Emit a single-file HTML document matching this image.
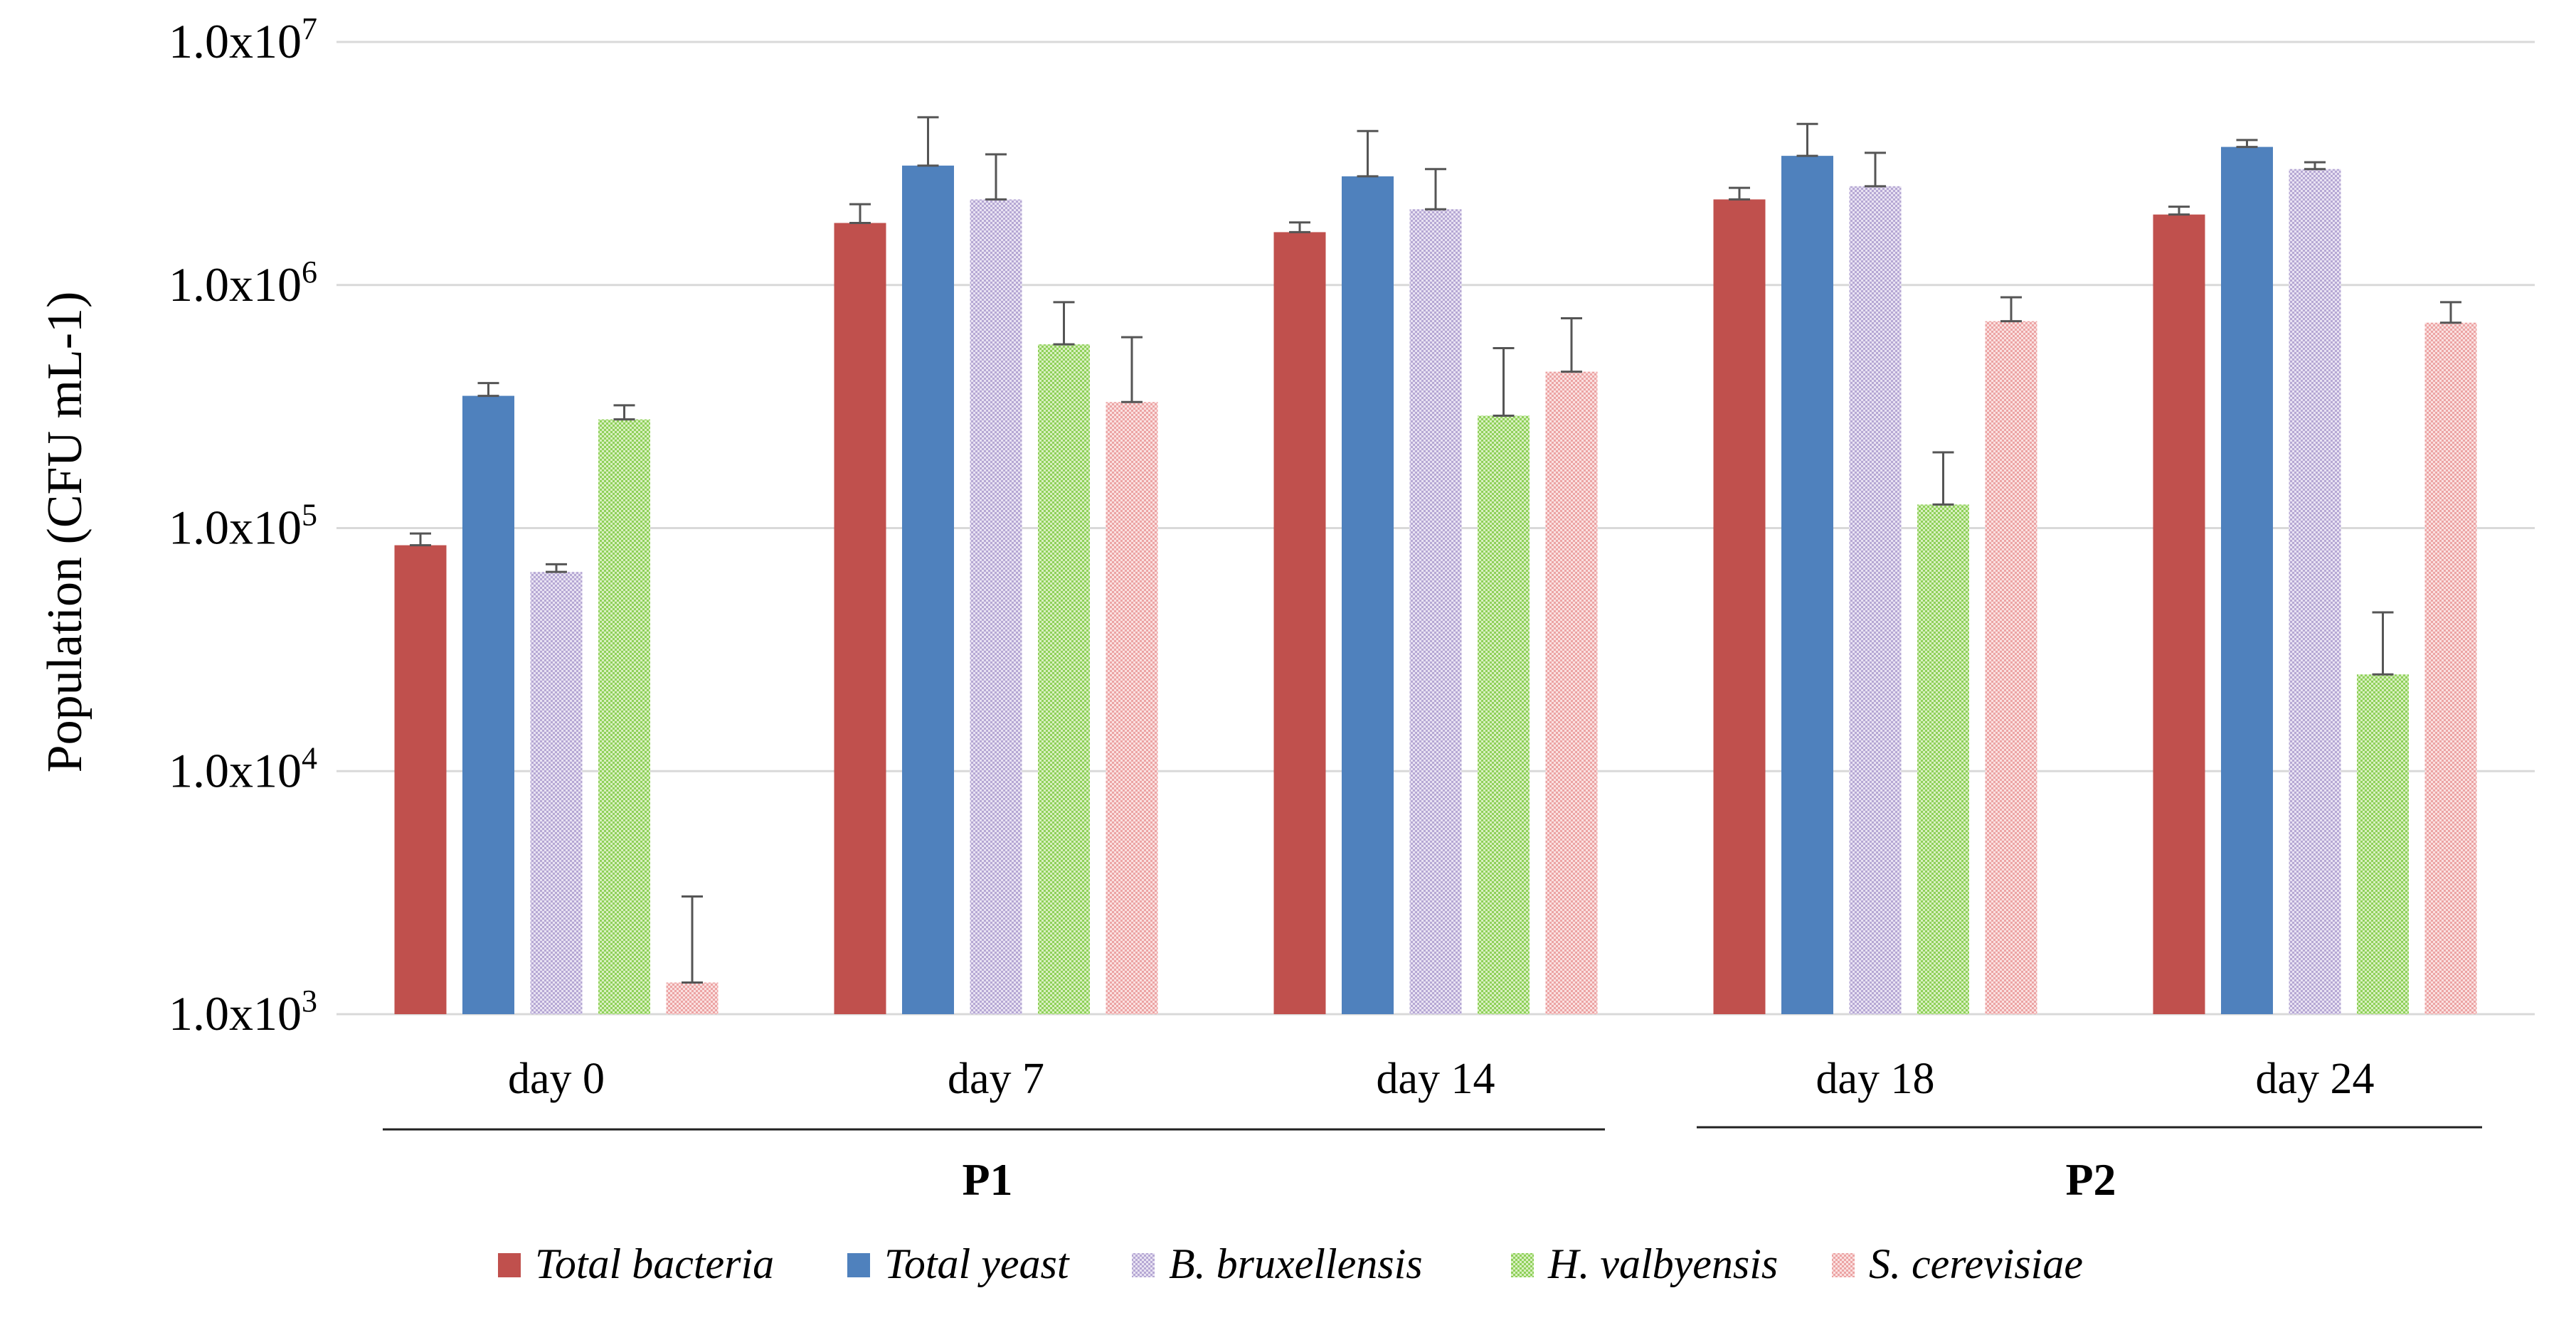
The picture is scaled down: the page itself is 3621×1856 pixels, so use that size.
<!DOCTYPE html>
<html><head><meta charset="utf-8"><style>
html,body{margin:0;padding:0;background:#fff}
svg{display:block;font-family:"Liberation Serif",serif}
</style></head><body>
<svg id="chart" width="3621" height="1856" viewBox="0 0 3621 1856" xmlns="http://www.w3.org/2000/svg">
<defs>
<pattern id="pPurple" width="6" height="6" patternUnits="userSpaceOnUse"><rect width="6" height="6" fill="#e8e2f2"/><rect width="3" height="3" fill="#b6a8d4"/><rect x="3" y="3" width="3" height="3" fill="#b6a8d4"/></pattern>
<pattern id="pGreen" width="6" height="6" patternUnits="userSpaceOnUse"><rect width="6" height="6" fill="#d8f0c0"/><rect width="3" height="3" fill="#8fd05a"/><rect x="3" y="3" width="3" height="3" fill="#8fd05a"/></pattern>
<pattern id="pPink" width="6" height="6" patternUnits="userSpaceOnUse"><rect width="6" height="6" fill="#fae0e0"/><rect width="3" height="3" fill="#eca4a4"/><rect x="3" y="3" width="3" height="3" fill="#eca4a4"/></pattern>
</defs>
<g id="grid"></g><g id="bars"></g><g id="errs"></g><g id="labels"></g>
<text transform="translate(114,748) rotate(-90)" text-anchor="middle" font-size="70">Population (CFU mL-1)</text>
<line x1="538" y1="1588" x2="2256" y2="1588" stroke="#222" stroke-width="3"/>
<line x1="2385" y1="1585" x2="3489" y2="1585" stroke="#222" stroke-width="3"/>
<text x="1388" y="1680" text-anchor="middle" font-size="64" font-weight="bold">P1</text>
<text x="2939" y="1680" text-anchor="middle" font-size="64" font-weight="bold">P2</text>
<g id="legend" font-style="italic" font-size="60"></g>
</svg>
<script>
const categories = ["day 0","day 7","day 14","day 18","day 24"];
const seriesNames = ["Total bacteria","Total yeast","B. bruxellensis","H. valbyensis","S. cerevisiae"];
const totalBacteria = [8.5e4, 1.8e6, 1.65e6, 2.25e6, 1.95e6];
const totalYeast = [3.5e5, 3.1e6, 2.8e6, 3.4e6, 3.7e6];
const bBruxellensis = [6.6e4, 2.25e6, 2.05e6, 2.55e6, 3.0e6];
const hValbyensis = [2.8e5, 5.7e5, 2.9e5, 1.25e5, 2.5e4];
const sCerevisiae = [1.35e3, 3.3e5, 4.4e5, 7.1e5, 7.0e5];
const errBacteria = [1.0e4, 3.5e5, 1.6e5, 2.6e5, 1.5e5];
const errYeast = [4.5e4, 1.8e6, 1.5e6, 1.2e6, 2.5e5];
const errBrux = [5e3, 1.2e6, 9.5e5, 9.5e5, 2.0e5];
const errValby = [4.0e4, 2.8e5, 2.6e5, 8.0e4, 2.0e4];
const errCerev = [1.7e3, 2.8e5, 2.9e5, 1.8e5, 1.5e5];
const tickExps = [3,4,5,6,7];

const values=[totalBacteria,totalYeast,bBruxellensis,hValbyensis,sCerevisiae];
const errs=[errBacteria,errYeast,errBrux,errValby,errCerev];
const fills=["#c0504d","#4f81bd","url(#pPurple)","url(#pGreen)","url(#pPink)"];
const NS="http://www.w3.org/2000/svg";
const X0=473,X1=3563,Y7=59,Y3=1426;
const yScale=v=>Y3-(Math.log10(v)-3)/4*(Y3-Y7);
const catW=(X1-X0)/categories.length;
const barW=73,pitch=95.5;
const barX=(c,s)=>X0+catW*c+catW/2-(pitch*2+barW/2)+s*pitch;
function mk(tag,attrs,parent,text){const e=document.createElementNS(NS,tag);for(const k in attrs)e.setAttribute(k,attrs[k]);if(text!=null)e.textContent=text;document.getElementById(parent).appendChild(e);return e;}

tickExps.forEach(ex=>{
  const y=yScale(Math.pow(10,ex));
  const g=mk('line',{x1:X0,x2:X1,y1:y,y2:y,stroke:'#d9d9d9','stroke-width':3},'grid');
  
  
  const t=mk('text',{x:446,y:y+22,'text-anchor':'end','font-size':68},'labels');
  
  
  t.textContent='1.0x10';
  const s=document.createElementNS(NS,'tspan');s.setAttribute('dy','-26');s.setAttribute('font-size','44');s.textContent=ex;t.appendChild(s);
});
categories.forEach((c,ci)=>{
  const t=mk('text',{x:X0+catW*ci+catW/2,y:1537,'text-anchor':'middle','font-size':62},'labels',c);
  
  
  values.forEach((arr,si)=>{
    const x=barX(ci,si),y=yScale(arr[ci]);
    const r=mk('rect',{x:x,y:y,width:barW,height:Y3-y,fill:fills[si]},'bars');
    
    
    const ye=yScale(arr[ci]+errs[si][ci]),cx=x+barW/2;
    const e=mk('path',{d:`M${cx},${y}V${ye}M${cx-15},${ye}H${cx+15}M${cx-15},${y}H${cx+15}`,stroke:'#555',"stroke-width":3,fill:'none'},'errs');
    
    
  });
});
const legX=[700,1191,1591,2124,2575];
seriesNames.forEach((n,i)=>{
  const sw=mk('rect',{x:legX[i],y:1762,width:32,height:34,fill:fills[i]},'legend');
  
  
  const t=mk('text',{x:legX[i]+52,y:1797},'legend',n);
  
  
});
</script>
</body></html>
